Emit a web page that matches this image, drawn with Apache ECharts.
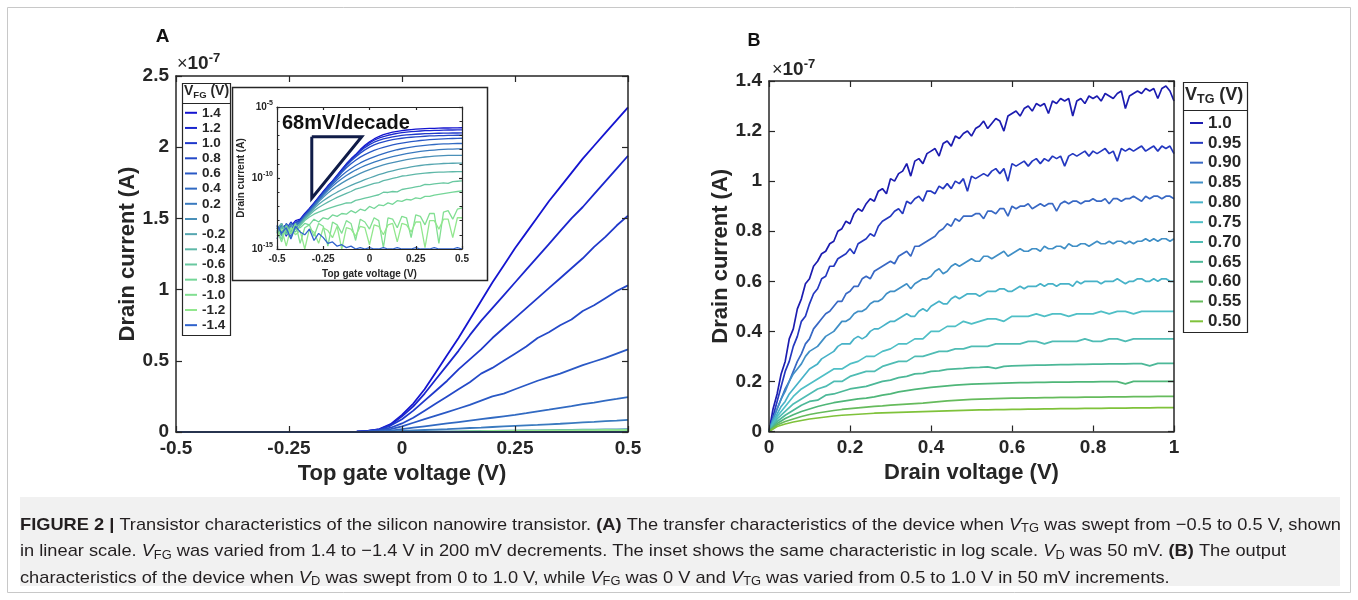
<!DOCTYPE html>
<html>
<head>
<meta charset="utf-8">
<script src="https://cdn.jsdelivr.net/npm/echarts@6/dist/echarts.min.js"></script>
<style>
html,body{margin:0;padding:0;background:#ffffff;}
#chart{width:1358px;height:600px;}
</style>
</head>
<body>
<div id="chart"></div>
<script>
// ================= Panel A : linear transfer curves (x 1e-7 A) =================
const vtgA = [-0.5,-0.475,-0.45,-0.425,-0.4,-0.375,-0.35,-0.325,-0.3,-0.275,-0.25,-0.225,-0.2,-0.175,-0.15,-0.125,-0.1,-0.075,-0.05,-0.025,0,0.025,0.05,0.075,0.1,0.125,0.15,0.175,0.2,0.225,0.25,0.275,0.3,0.325,0.35,0.375,0.4,0.425,0.45,0.475,0.5];
const fgLabels = ['1.4','1.2','1.0','0.8','0.6','0.4','0.2','0','-0.2','-0.4','-0.6','-0.8','-1.0','-1.2','-1.4'];
const fgColors = ['#1414d0','#1a26ce','#1f38cb','#2449c8','#2a59c5','#316ac2','#3a7abf','#4a90b8','#56a6b0','#5fb8a8','#69c8a0','#75d698','#82df92','#92e78e','#2f62cc'];

const idA_p14 = [0,0,0,0,0,0,0,0,0,0,0,0,0,0,0,0,0.003,0.008,0.02,0.055,0.12,0.2,0.3,0.42,0.54,0.66,0.79,0.92,1.05,1.17,1.29,1.4,1.51,1.62,1.72,1.82,1.92,2.01,2.1,2.19,2.28];
const idA_p12 = [0,0,0,0,0,0,0,0,0,0,0,0,0,0,0,0,0.003,0.008,0.019,0.05,0.11,0.18,0.27,0.37,0.47,0.57,0.68,0.78,0.87,0.96,1.05,1.14,1.23,1.32,1.41,1.5,1.58,1.67,1.76,1.85,1.94];
const idA_p10 = [0,0,0,0,0,0,0,0,0,0,0,0,0,0,0,0,0.002,0.007,0.017,0.045,0.09,0.15,0.22,0.29,0.36,0.44,0.51,0.58,0.66,0.73,0.8,0.87,0.94,1.01,1.08,1.15,1.22,1.3,1.37,1.45,1.52];
const idA_p08 = [0,0,0,0,0,0,0,0,0,0,0,0,0,0,0,0,0.002,0.005,0.013,0.03,0.06,0.1,0.15,0.2,0.25,0.3,0.35,0.41,0.45,0.5,0.55,0.6,0.66,0.7,0.75,0.79,0.85,0.89,0.94,0.99,1.03];
const idA_p06 = [0,0,0,0,0,0,0,0,0,0,0,0,0,0,0,0,0.001,0.004,0.009,0.02,0.04,0.065,0.09,0.115,0.14,0.165,0.19,0.22,0.25,0.27,0.3,0.33,0.36,0.385,0.41,0.44,0.47,0.495,0.52,0.55,0.58];
const idA_p04 = [0,0,0,0,0,0,0,0,0,0,0,0,0,0,0,0,0.001,0.002,0.005,0.01,0.02,0.03,0.04,0.05,0.06,0.07,0.08,0.09,0.1,0.11,0.12,0.132,0.145,0.157,0.17,0.182,0.195,0.207,0.22,0.232,0.245];
const idA_p02 = [0,0,0,0,0,0,0,0,0,0,0,0,0,0,0,0,0.0005,0.001,0.002,0.004,0.008,0.011,0.014,0.017,0.02,0.024,0.028,0.031,0.035,0.039,0.043,0.047,0.05,0.054,0.058,0.063,0.067,0.071,0.076,0.08,0.085];
const idA_z00 = [0,0,0,0,0,0,0,0,0,0,0,0,0,0,0,0,0,0,0.001,0.001,0.002,0.003,0.003,0.004,0.005,0.005,0.006,0.007,0.008,0.009,0.01,0.011,0.012,0.013,0.014,0.015,0.016,0.017,0.018,0.019,0.02];
const idA_m02 = [0,0,0,0,0,0,0,0,0,0,0,0,0,0,0,0,0,0,0,0,0,0,0,0.001,0.001,0.001,0.001,0.001,0.001,0.002,0.002,0.002,0.002,0.002,0.002,0.002,0.003,0.003,0.003,0.003,0.003];
const idA_m04 = [0,0,0,0,0,0,0,0,0,0,0,0,0,0,0,0,0,0,0,0,0,0,0,0,0,0,0,0,0.001,0.001,0.001,0.001,0.001,0.001,0.001,0.001,0.001,0.001,0.002,0.002,0.002];
const idA_m06 = [0,0,0,0,0,0,0,0,0,0,0,0,0,0,0,0,0,0,0,0,0,0,0,0,0,0,0,0,0,0,0,0.001,0.001,0.001,0.001,0.001,0.001,0.001,0.001,0.001,0.001];
const idA_m08 = [0,0,0,0,0,0,0,0,0,0,0,0,0,0,0,0,0,0,0,0,0,0,0,0,0,0,0,0,0,0,0,0,0,0,0,0,0,0,0,0,0];
const idA_m10 = [0,0,0,0,0,0,0,0,0,0,0,0,0,0,0,0,0,0,0,0,0,0,0,0,0,0.003,0.005,0.006,0.008,0.007,0.009,0.01,0.009,0.011,0.012,0.011,0.013,0.012,0.014,0.013,0.015];
const idA_m12 = [0,0,0,0,0,0,0,0,0,0,0,0,0,0,0,0,0,0,0,0,0,0,0,0,0,0.002,0.004,0.005,0.006,0.006,0.007,0.008,0.008,0.009,0.009,0.01,0.01,0.011,0.011,0.012,0.012];
const idA_m14 = [0,0,0,0,0,0,0,0,0,0,0,0,0,0,0,0,0,0,0,0,0,0,0,0,0,0,0,0,0,0,0,0,0,0,0,0,0,0,0,0,0];
const linearA = [idA_p14,idA_p12,idA_p10,idA_p08,idA_p06,idA_p04,idA_p02,idA_z00,idA_m02,idA_m04,idA_m06,idA_m08,idA_m10,idA_m12,idA_m14];

// ================= Inset : log10 of drain current (A) =================
const logA_p14 = [-13.6,-13.2,-14.1,-13.4,-13.0,-12.9,-12.5,-12.15,-11.75,-11.35,-10.95,-10.55,-10.2,-9.8,-9.4,-9.0,-8.65,-8.35,-8.0,-7.7,-7.45,-7.25,-7.08,-6.95,-6.85,-6.77,-6.71,-6.66,-6.62,-6.59,-6.56,-6.54,-6.52,-6.51,-6.5,-6.49,-6.48,-6.48,-6.47,-6.47,-6.46];
const logA_p12 = [-13.9,-13.5,-13.3,-14.2,-13.2,-12.95,-12.55,-12.2,-11.8,-11.4,-11.0,-10.6,-10.22,-9.83,-9.43,-9.03,-8.68,-8.38,-8.04,-7.77,-7.53,-7.34,-7.19,-7.08,-6.99,-6.92,-6.86,-6.81,-6.77,-6.74,-6.71,-6.69,-6.67,-6.66,-6.65,-6.64,-6.63,-6.62,-6.62,-6.61,-6.61];
const logA_p10 = [-13.4,-14.0,-13.6,-13.1,-13.5,-13.0,-12.6,-12.2,-11.8,-11.4,-11.02,-10.62,-10.25,-9.86,-9.46,-9.07,-8.72,-8.43,-8.12,-7.86,-7.65,-7.48,-7.35,-7.25,-7.17,-7.1,-7.05,-7.0,-6.97,-6.94,-6.92,-6.9,-6.88,-6.87,-6.86,-6.85,-6.84,-6.84,-6.83,-6.83,-6.82];
const logA_p08 = [-14.3,-13.3,-13.7,-13.8,-13.1,-13.0,-12.6,-12.25,-11.85,-11.45,-11.05,-10.66,-10.3,-9.92,-9.53,-9.15,-8.8,-8.52,-8.25,-8.02,-7.83,-7.67,-7.55,-7.45,-7.37,-7.3,-7.25,-7.2,-7.16,-7.13,-7.1,-7.08,-7.06,-7.04,-7.03,-7.02,-7.01,-7.0,-7.0,-6.99,-6.99];
const logA_p06 = [-13.5,-13.9,-13.2,-13.6,-13.3,-13.05,-12.65,-12.3,-11.9,-11.5,-11.1,-10.72,-10.35,-9.98,-9.62,-9.28,-9.0,-8.75,-8.53,-8.35,-8.2,-8.06,-7.94,-7.84,-7.75,-7.67,-7.6,-7.54,-7.49,-7.44,-7.4,-7.36,-7.33,-7.3,-7.28,-7.26,-7.24,-7.23,-7.22,-7.21,-7.2];
const logA_p04 = [-13.7,-13.3,-14.0,-13.2,-13.4,-13.1,-12.7,-12.35,-11.95,-11.55,-11.15,-10.78,-10.45,-10.12,-9.83,-9.56,-9.33,-9.12,-8.94,-8.78,-8.64,-8.51,-8.39,-8.28,-8.18,-8.09,-8.01,-7.94,-7.88,-7.83,-7.78,-7.74,-7.7,-7.67,-7.64,-7.62,-7.6,-7.59,-7.58,-7.57,-7.57];
const logA_p02 = [-13.4,-13.8,-13.5,-13.9,-13.2,-13.15,-12.75,-12.4,-12.0,-11.6,-11.22,-10.88,-10.58,-10.3,-10.05,-9.82,-9.62,-9.44,-9.28,-9.13,-9.0,-8.88,-8.77,-8.67,-8.58,-8.5,-8.42,-8.35,-8.29,-8.23,-8.18,-8.13,-8.09,-8.06,-8.03,-8.0,-7.98,-7.97,-7.96,-7.95,-7.95];
const logA_z00 = [-13.8,-13.4,-13.9,-13.3,-13.6,-13.2,-12.8,-12.45,-12.05,-11.68,-11.35,-11.06,-10.8,-10.57,-10.36,-10.17,-9.99,-9.83,-9.68,-9.54,-9.41,-9.29,-9.18,-9.08,-8.99,-8.91,-8.84,-8.77,-8.71,-8.65,-8.6,-8.56,-8.52,-8.49,-8.46,-8.44,-8.42,-8.41,-8.4,-8.4,-8.4];
const logA_m02 = [-13.5,-14.1,-13.3,-13.7,-13.4,-13.25,-12.85,-12.5,-12.15,-11.85,-11.6,-11.38,-11.18,-11.0,-10.83,-10.67,-10.52,-10.38,-10.25,-10.12,-10.0,-9.88,-9.77,-9.67,-9.57,-9.49,-9.41,-9.34,-9.28,-9.22,-9.17,-9.12,-9.08,-9.05,-9.02,-9.0,-8.98,-8.97,-8.96,-8.95,-8.95];
const logA_m04 = [-13.9,-13.5,-13.7,-14.2,-13.4,-13.3,-12.9,-12.6,-12.3,-12.08,-11.88,-11.7,-11.53,-11.37,-11.22,-11.08,-10.95,-10.78,-10.7,-10.59,-10.48,-10.38,-10.32,-10.19,-10.11,-10.03,-9.96,-9.86,-9.83,-9.78,-9.73,-9.69,-9.66,-9.63,-9.6,-9.59,-9.58,-9.57,-9.56,-9.55,-9.55];
const logA_m06 = [-13.6,-13.2,-14.0,-13.5,-13.8,-13.35,-13.0,-12.75,-12.55,-12.4,-12.28,-12.16,-12.05,-11.95,-11.85,-11.76,-11.75,-11.58,-11.5,-11.42,-11.34,-11.26,-11.18,-11.0,-11.02,-10.95,-10.98,-10.81,-10.75,-10.69,-10.63,-10.57,-10.45,-10.47,-10.42,-10.38,-10.34,-10.38,-10.26,-10.23,-10.2];
const logA_m08 = [-13.8,-14.3,-13.5,-13.9,-13.6,-13.5,-13.2,-13.3,-12.9,-13.1,-12.8,-12.9,-12.6,-12.7,-12.5,-12.55,-12.3,-12.45,-12.2,-12.3,-12.0,-12.15,-11.9,-11.95,-11.75,-11.85,-11.6,-11.65,-11.5,-11.55,-11.4,-11.45,-11.3,-11.3,-11.2,-11.15,-11.1,-11.05,-11.0,-10.95,-10.9];
const logA_m10 = [-13.7,-14.5,-13.4,-13.9,-13.2,-14.6,-13.5,-13.3,-14.1,-13.2,-13.4,-14.8,-13.1,-13.3,-13.9,-13.0,-13.2,-14.4,-12.9,-13.1,-13.6,-12.8,-13.0,-14.9,-12.8,-12.9,-13.5,-12.7,-12.8,-14.2,-12.6,-12.7,-13.3,-12.5,-12.5,-14.6,-12.4,-12.3,-12.9,-12.2,-12.1];
const logA_m12 = [-14.1,-13.6,-14.8,-13.5,-14.0,-13.7,-15.0,-13.6,-13.8,-14.6,-13.5,-13.7,-14.2,-13.4,-15.0,-13.5,-13.6,-14.1,-13.4,-13.5,-14.7,-13.3,-13.4,-14.0,-13.3,-13.2,-14.5,-13.2,-13.3,-13.8,-13.1,-13.1,-14.9,-13.0,-13.0,-13.6,-12.9,-12.9,-14.2,-12.8,-12.8];
const logA_m14 = [-13.3,-13.9,-13.5,-14.3,-13.4,-13.8,-14.0,-13.6,-14.4,-13.9,-14.2,-14.6,-14.5,-14.8,-14.7,-14.9,-14.8,-15.0,-14.9,-15.0,-14.9,-15.0,-15.0,-14.9,-15.0,-15.0,-14.9,-15.0,-15.0,-15.0,-14.9,-15.0,-15.0,-15.0,-14.9,-15.0,-15.0,-15.0,-15.0,-14.9,-15.0];
const logA = [logA_p14,logA_p12,logA_p10,logA_p08,logA_p06,logA_p04,logA_p02,logA_z00,logA_m02,logA_m04,logA_m06,logA_m08,logA_m10,logA_m12,logA_m14];
const slopeTriangle = [[-0.312,-7.09],[-0.042,-7.09],[-0.312,-11.43],[-0.312,-7.09]];
const insetYTicks = [-15,-10,-5];

// ================= Panel B : output curves (x 1e-7 A) =================
const vdB_fine = [0,0.01,0.02,0.03,0.04,0.05,0.06,0.07,0.08,0.09,
  0.1,0.11,0.12,0.13,0.14,0.15,0.16,0.17,0.18,0.19,
  0.2,0.21,0.22,0.23,0.24,0.25,0.26,0.27,0.28,0.29,
  0.3,0.31,0.32,0.33,0.34,0.35,0.36,0.37,0.38,0.39,
  0.4,0.41,0.42,0.43,0.44,0.45,0.46,0.47,0.48,0.49,
  0.5,0.51,0.52,0.53,0.54,0.55,0.56,0.57,0.58,0.59,
  0.6,0.61,0.62,0.63,0.64,0.65,0.66,0.67,0.68,0.69,
  0.7,0.71,0.72,0.73,0.74,0.75,0.76,0.77,0.78,0.79,
  0.8,0.81,0.82,0.83,0.84,0.85,0.86,0.87,0.88,0.89,
  0.9,0.91,0.92,0.93,0.94,0.95,0.96,0.97,0.98,0.99,1.0];
const vdB = [0,0.02,0.04,0.06,0.08,0.1,0.12,0.14,0.16,0.18,0.2,0.22,0.24,0.26,0.28,0.3,0.32,0.34,0.36,0.38,0.4,0.42,0.44,0.46,0.48,0.5,0.52,0.54,0.56,0.58,0.6,0.62,0.64,0.66,0.68,0.7,0.72,0.74,0.76,0.78,0.8,0.82,0.84,0.86,0.88,0.9,0.92,0.94,0.96,0.98,1.0];
const vtgLabels = ['1.0','0.95','0.90','0.85','0.80','0.75','0.70','0.65','0.60','0.55','0.50'];
const vtgColors = ['#1c1cb0','#2438c0','#3868c4','#408fc6','#47b2c8','#4fbfc6','#4fbcb4','#4cb898','#4fb678','#66bb5c','#7fc23a'];
const idB_100 = [0,0.09,0.15,0.23,0.28,0.37,0.41,0.49,0.53,0.59,
  0.61,0.66,0.68,0.71,0.72,0.75,0.76,0.80,0.81,0.84,
  0.83,0.87,0.89,0.88,0.91,0.93,0.92,0.96,0.97,0.95,
  1.01,1.00,1.03,1.04,1.07,1.02,1.08,1.09,1.07,1.11,
  1.12,1.13,1.10,1.15,1.16,1.14,1.18,1.17,1.19,1.20,
  1.18,1.21,1.22,1.24,1.21,1.23,1.25,1.24,1.20,1.26,
  1.27,1.28,1.26,1.29,1.30,1.28,1.31,1.30,1.31,1.27,
  1.32,1.31,1.33,1.32,1.33,1.26,1.32,1.33,1.31,1.34,
  1.33,1.34,1.32,1.35,1.34,1.33,1.35,1.36,1.29,1.34,
  1.35,1.36,1.35,1.37,1.36,1.37,1.33,1.37,1.38,1.36,1.32];
const idB_095 = [0,0.06,0.12,0.18,0.24,0.28,0.34,0.38,0.44,0.46,
  0.51,0.55,0.57,0.61,0.62,0.66,0.66,0.69,0.70,0.71,
  0.73,0.71,0.75,0.76,0.77,0.79,0.78,0.82,0.84,0.85,
  0.86,0.88,0.89,0.87,0.92,0.91,0.93,0.94,0.92,0.96,
  0.96,0.95,0.98,0.97,0.99,0.97,1.00,0.99,1.01,0.96,
  1.02,1.01,1.02,1.03,1.02,1.04,1.05,1.03,1.05,1.00,
  1.07,1.06,1.07,1.08,1.06,1.08,1.09,1.07,1.09,1.08,
  1.10,1.09,1.10,1.06,1.10,1.11,1.10,1.11,1.12,1.10,
  1.12,1.11,1.12,1.13,1.11,1.12,1.08,1.13,1.12,1.13,
  1.12,1.13,1.14,1.12,1.13,1.14,1.12,1.14,1.13,1.14,1.11];
const idB_090 = [0,0.05,0.09,0.13,0.17,0.20,0.24,0.28,0.31,0.35,
  0.37,0.41,0.43,0.45,0.47,0.48,0.50,0.52,0.52,0.55,
  0.56,0.58,0.58,0.61,0.62,0.61,0.64,0.65,0.66,0.67,
  0.68,0.67,0.70,0.71,0.72,0.70,0.74,0.74,0.75,0.76,
  0.77,0.78,0.80,0.81,0.83,0.82,0.85,0.84,0.86,0.86,
  0.86,0.87,0.87,0.85,0.88,0.88,0.87,0.89,0.89,0.86,
  0.90,0.89,0.90,0.90,0.91,0.89,0.90,0.91,0.90,0.91,
  0.91,0.88,0.91,0.92,0.91,0.92,0.92,0.91,0.92,0.92,
  0.93,0.92,0.92,0.93,0.91,0.93,0.93,0.92,0.93,0.93,
  0.94,0.93,0.92,0.94,0.93,0.94,0.94,0.93,0.94,0.94,0.93];
const idB_085 = [0,0.05,0.09,0.13,0.16,0.20,0.23,0.25,0.27,0.30,
  0.32,0.33,0.34,0.36,0.38,0.39,0.40,0.42,0.44,0.44,
  0.45,0.47,0.48,0.48,0.49,0.51,0.52,0.52,0.53,0.55,
  0.56,0.56,0.57,0.58,0.59,0.57,0.59,0.60,0.61,0.61,
  0.62,0.64,0.65,0.63,0.64,0.66,0.67,0.66,0.67,0.68,
  0.69,0.68,0.68,0.70,0.70,0.69,0.70,0.71,0.72,0.70,
  0.71,0.72,0.73,0.72,0.72,0.73,0.73,0.72,0.74,0.73,
  0.73,0.74,0.74,0.73,0.75,0.74,0.74,0.75,0.75,0.74,
  0.75,0.76,0.75,0.75,0.76,0.75,0.76,0.76,0.75,0.76,
  0.75,0.76,0.76,0.77,0.76,0.77,0.76,0.77,0.77,0.76,0.77];
const idB_080 = [0,0.04,0.07,0.10,0.12,0.15,0.17,0.19,0.21,0.23,
  0.25,0.26,0.27,0.29,0.30,0.31,0.32,0.34,0.35,0.35,
  0.35,0.37,0.38,0.37,0.38,0.40,0.41,0.41,0.42,0.43,
  0.44,0.44,0.45,0.46,0.47,0.46,0.46,0.48,0.49,0.48,
  0.50,0.51,0.52,0.51,0.51,0.53,0.54,0.53,0.54,0.55,
  0.55,0.55,0.54,0.55,0.56,0.56,0.56,0.57,0.57,0.56,
  0.56,0.57,0.58,0.57,0.58,0.58,0.58,0.59,0.58,0.59,
  0.59,0.58,0.59,0.59,0.59,0.58,0.60,0.59,0.60,0.60,
  0.60,0.60,0.59,0.60,0.60,0.60,0.61,0.60,0.59,0.60,
  0.60,0.61,0.61,0.60,0.60,0.61,0.60,0.61,0.61,0.60,0.60];
const idB_075 = [0,0.06,0.10,0.14,0.17,0.19,0.21,0.23,0.25,0.25,0.27,0.28,0.30,0.30,0.32,0.33,0.35,0.35,0.37,0.37,0.40,0.40,0.42,0.42,0.44,0.43,0.44,0.45,0.45,0.44,0.46,0.46,0.46,0.47,0.46,0.47,0.47,0.46,0.47,0.47,0.47,0.48,0.47,0.48,0.48,0.47,0.48,0.48,0.48,0.48,0.48];
const idB_070 = [0,0.05,0.08,0.11,0.13,0.15,0.17,0.18,0.20,0.20,0.22,0.23,0.24,0.24,0.26,0.27,0.28,0.28,0.30,0.30,0.31,0.32,0.32,0.33,0.33,0.34,0.34,0.34,0.35,0.35,0.35,0.35,0.36,0.36,0.35,0.36,0.36,0.36,0.36,0.37,0.36,0.36,0.37,0.37,0.36,0.37,0.37,0.37,0.37,0.37,0.37];
const idB_065 = [0,0.04,0.065,0.085,0.105,0.12,0.125,0.145,0.15,0.16,0.17,0.175,0.18,0.19,0.20,0.205,0.215,0.22,0.23,0.232,0.24,0.242,0.248,0.25,0.252,0.255,0.256,0.258,0.252,0.26,0.262,0.263,0.264,0.265,0.265,0.266,0.267,0.267,0.268,0.268,0.269,0.269,0.27,0.27,0.27,0.271,0.271,0.262,0.272,0.272,0.272];
const idB_060 = [0,0.032,0.052,0.067,0.08,0.09,0.10,0.108,0.115,0.12,0.125,0.13,0.133,0.138,0.145,0.15,0.158,0.163,0.168,0.172,0.176,0.179,0.182,0.185,0.187,0.189,0.19,0.191,0.192,0.193,0.194,0.195,0.195,0.196,0.196,0.197,0.197,0.197,0.198,0.198,0.198,0.199,0.199,0.199,0.19,0.2,0.2,0.2,0.2,0.2,0.2];
const idB_055 = [0,0.026,0.04,0.05,0.06,0.068,0.074,0.079,0.084,0.088,0.091,0.094,0.097,0.1,0.102,0.105,0.107,0.109,0.111,0.113,0.116,0.119,0.122,0.124,0.126,0.128,0.129,0.13,0.131,0.132,0.133,0.133,0.134,0.134,0.135,0.135,0.136,0.136,0.136,0.137,0.137,0.137,0.138,0.138,0.138,0.139,0.139,0.139,0.14,0.14,0.14];
const idB_050 = [0,0.02,0.03,0.038,0.044,0.05,0.054,0.058,0.062,0.065,0.067,0.069,0.071,0.073,0.074,0.075,0.076,0.077,0.078,0.079,0.08,0.081,0.082,0.083,0.084,0.085,0.086,0.086,0.087,0.087,0.088,0.088,0.089,0.089,0.09,0.09,0.091,0.091,0.091,0.092,0.092,0.092,0.093,0.093,0.093,0.094,0.094,0.094,0.095,0.095,0.095];
const outputB = [idB_100,idB_095,idB_090,idB_085,idB_080,idB_075,idB_070,idB_065,idB_060,idB_055,idB_050];
const outputBx = [vdB_fine,vdB_fine,vdB_fine,vdB_fine,vdB_fine,vdB,vdB,vdB,vdB,vdB,vdB];

// ================= Caption text =================
const captionLines = [
  [['b','FIGURE 2 |'],['n',' Transistor characteristics of the silicon nanowire transistor. '],['b','(A)'],['n',' The transfer characteristics of the device when '],['i','V'],['s','TG'],['n',' was swept from \u22120.5 to 0.5 V, shown']],
  [['n','in linear scale. '],['i','V'],['s','FG'],['n',' was varied from 1.4 to \u22121.4 V in 200 mV decrements. The inset shows the same characteristic in log scale. '],['i','V'],['s','D'],['n',' was 50 mV. '],['b','(B)'],['n',' The output']],
  [['n','characteristics of the device when '],['i','V'],['s','D'],['n',' was swept from 0 to 1.0 V, while '],['i','V'],['s','FG'],['n',' was 0 V and '],['i','V'],['s','TG'],['n',' was varied from 0.5 to 1.0 V in 50 mV increments.']]
];

// ================= Build chart =================
const FONT = 'Liberation Sans';
const AX = '#262626';

function axis(o) {
  const lab = Object.assign({show:true, color:AX, fontFamily:FONT, fontWeight:'bold', fontSize:19, margin:7}, o.label || {});
  const tick = Object.assign({show:true, inside:true, length:6, lineStyle:{color:AX, width:1.2}}, o.tick || {});
  const a = {
    type:'value', gridIndex:o.grid, position:o.pos, min:o.min, max:o.max, interval:o.interval,
    axisLine:{show:true, onZero:false, lineStyle:{color:AX, width:o.lw || 1.5}},
    axisTick:tick, axisLabel:lab, splitLine:{show:false}, silent:true, z:5
  };
  if (o.name) {
    a.name = o.name; a.nameLocation = 'middle'; a.nameGap = o.nameGap;
    a.nameTextStyle = {color:AX, fontFamily:FONT, fontWeight:'bold', fontSize:o.nameSize};
  }
  if (o.minor) a.minorTick = {show:true, splitNumber:o.minor, length:2.5, lineStyle:{color:AX, width:1}};
  return a;
}

const insetLabelRich = {
  b:{fontSize:10, fontWeight:'bold', fontFamily:FONT, color:AX},
  e:{fontSize:7, fontWeight:'bold', fontFamily:FONT, color:AX, padding:[0,0,7,0]}
};

const xAxes = [
  axis({grid:0, pos:'bottom', min:-0.5, max:0.5, interval:0.25, name:'Top gate voltage (V)', nameGap:27, nameSize:22}),
  axis({grid:0, pos:'top', min:-0.5, max:0.5, interval:0.25, label:{show:false}}),
  axis({grid:1, pos:'bottom', min:-0.5, max:0.5, interval:0.25, lw:1.2, tick:{length:3}, label:{fontSize:10, margin:5}, name:'Top gate voltage (V)', nameGap:20, nameSize:10}),
  axis({grid:1, pos:'top', min:-0.5, max:0.5, interval:0.25, lw:1.2, tick:{length:3}, label:{show:false}}),
  axis({grid:2, pos:'bottom', min:0, max:1, interval:0.2, name:'Drain voltage (V)', nameGap:27, nameSize:22}),
  axis({grid:2, pos:'top', min:0, max:1, interval:0.2, label:{show:false}})
];
const yAxes = [
  axis({grid:0, pos:'left', min:0, max:2.5, interval:0.5, name:'Drain current (A)', nameGap:36, nameSize:22}),
  axis({grid:0, pos:'right', min:0, max:2.5, interval:0.5, label:{show:false}}),
  axis({grid:1, pos:'left', min:insetYTicks[0], max:insetYTicks[2], interval:5, lw:1.2, tick:{length:3}, minor:5,
        label:{fontSize:10, margin:4, formatter:v => '{b|10}{e|' + v + '}', rich:insetLabelRich},
        name:'Drain current (A)', nameGap:31, nameSize:10}),
  axis({grid:1, pos:'right', min:insetYTicks[0], max:insetYTicks[2], interval:5, lw:1.2, tick:{length:3}, minor:5, label:{show:false}}),
  axis({grid:2, pos:'left', min:0, max:1.4, interval:0.2, name:'Drain current (A)', nameGap:34, nameSize:22}),
  axis({grid:2, pos:'right', min:0, max:1.4, interval:0.2, label:{show:false}})
];

const series = [];
fgLabels.forEach((lab, k) => {
  series.push({
    type:'line', name:'A:' + lab, xAxisIndex:0, yAxisIndex:0, z:2,
    data: vtgA.map((v, i) => [v, linearA[k][i]]),
    symbol:'none', silent:true, color:fgColors[k],
    lineStyle:{color:fgColors[k], width:1.8}, itemStyle:{color:fgColors[k]}
  });
});
fgLabels.forEach((lab, k) => {
  series.push({
    type:'line', name:'A:' + lab, xAxisIndex:2, yAxisIndex:2, z:3,
    data: vtgA.map((v, i) => [v, logA[k][i]]),
    symbol:'none', silent:true, color:fgColors[k],
    lineStyle:{color:fgColors[k], width:1.3}, itemStyle:{color:fgColors[k]}
  });
});
series.push({
  type:'line', name:'slope', xAxisIndex:2, yAxisIndex:2, z:4,
  data: slopeTriangle, symbol:'none', silent:true,
  lineStyle:{color:'#101c48', width:3, join:'miter'}
});
vtgLabels.forEach((lab, k) => {
  series.push({
    type:'line', name:'B:' + lab, xAxisIndex:4, yAxisIndex:4, z:2,
    data: outputBx[k].map((v, i) => [v, outputB[k][i]]),
    symbol:'none', silent:true, color:vtgColors[k],
    lineStyle:{color:vtgColors[k], width:1.7}, itemStyle:{color:vtgColors[k]}
  });
});

// caption measurement (to fit the reference line length)
const capStyles = {
  n:{fontSize:17, fontFamily:FONT, fill:'#231f20'},
  b:{fontSize:17, fontFamily:FONT, fontWeight:'bold', fill:'#231f20'},
  i:{fontSize:17, fontFamily:FONT, fontStyle:'italic', fill:'#231f20'},
  s:{fontSize:12, fontFamily:FONT, fill:'#231f20', padding:[8,0,0,0]}
};
const mctx = document.createElement('canvas').getContext('2d');
function lineWidth(segs) {
  let w = 0;
  segs.forEach(([st, t]) => {
    const s = capStyles[st];
    mctx.font = (s.fontStyle || 'normal') + ' ' + (s.fontWeight || 'normal') + ' ' + s.fontSize + 'px "' + FONT + '"';
    w += mctx.measureText(t).width;
  });
  return w;
}
const capScale = 1321 / lineWidth(captionLines[0]);
const capY = [525, 551.5, 578];

const graphics = [
  {type:'rect', z:-3, shape:{x:7.5, y:7.5, width:1343, height:585}, style:{fill:'#ffffff', stroke:'#c8c8c8', lineWidth:1}},
  {type:'rect', z:-2, shape:{x:20, y:497, width:1320, height:89}, style:{fill:'#f1f1f1'}},
  {type:'text', x:162.5, y:37, style:{text:'A', fontSize:19, fontWeight:'bold', fontFamily:FONT, fill:'#111', align:'center', verticalAlign:'middle'}},
  {type:'text', x:754, y:41, style:{text:'B', fontSize:18, fontWeight:'bold', fontFamily:FONT, fill:'#111', align:'center', verticalAlign:'middle'}},
  {type:'text', x:177, y:64, style:{text:'{x|\u00d7}{t|10}{e|-7}', align:'left', verticalAlign:'middle', fill:AX,
    rich:{x:{fontSize:18, fontFamily:FONT, fill:AX}, t:{fontSize:19, fontWeight:'bold', fontFamily:FONT, fill:AX}, e:{fontSize:13, fontWeight:'bold', fontFamily:FONT, fill:AX, padding:[0,0,11,0]}}}},
  {type:'text', x:772, y:70, style:{text:'{x|\u00d7}{t|10}{e|-7}', align:'left', verticalAlign:'middle', fill:AX,
    rich:{x:{fontSize:18, fontFamily:FONT, fill:AX}, t:{fontSize:19, fontWeight:'bold', fontFamily:FONT, fill:AX}, e:{fontSize:13, fontWeight:'bold', fontFamily:FONT, fill:AX, padding:[0,0,11,0]}}}},
  // legend A frame
  {type:'rect', z:-1, shape:{x:182.5, y:83.5, width:48, height:252}, style:{fill:'#ffffff', stroke:AX, lineWidth:1.2}},
  {type:'line', z:1, shape:{x1:182.5, y1:103.5, x2:230.5, y2:103.5}, style:{stroke:AX, lineWidth:1.2}},
  {type:'text', x:184, y:91.5, style:{text:'{v|V}{s|FG}{v| (V)}', align:'left', verticalAlign:'middle', fill:AX,
    rich:{v:{fontSize:14, fontWeight:'bold', fontFamily:FONT, fill:AX}, s:{fontSize:9.5, fontWeight:'bold', fontFamily:FONT, fill:AX, padding:[7,0,0,0]}}}},
  // legend B frame
  {type:'rect', z:-1, shape:{x:1183.5, y:82.5, width:64, height:250}, style:{fill:'#ffffff', stroke:AX, lineWidth:1.2}},
  {type:'line', z:1, shape:{x1:1183.5, y1:110.5, x2:1247.5, y2:110.5}, style:{stroke:AX, lineWidth:1.2}},
  {type:'text', x:1185, y:95.5, style:{text:'{v|V}{s|TG}{v| (V)}', align:'left', verticalAlign:'middle', fill:AX,
    rich:{v:{fontSize:18, fontWeight:'bold', fontFamily:FONT, fill:AX}, s:{fontSize:12.5, fontWeight:'bold', fontFamily:FONT, fill:AX, padding:[9,0,0,0]}}}},
  // inset frame
  {type:'rect', z:-1, shape:{x:232.5, y:87.5, width:255, height:193}, style:{fill:'#ffffff', stroke:AX, lineWidth:1.5}},
  {type:'text', z:6, x:282, y:123.5, style:{text:'68mV/decade', fontSize:20, fontWeight:'bold', fontFamily:FONT, fill:'#111', align:'left', verticalAlign:'middle'}}
];
captionLines.forEach((segs, li) => {
  graphics.push({
    type:'text', x:20, y:capY[li], scaleX:capScale, scaleY:1,
    style:{text: segs.map(([st, t]) => '{' + st + '|' + t + '}').join(''), rich:capStyles,
      fontSize:17, fontFamily:FONT, fill:'#231f20', align:'left', verticalAlign:'middle'}
  });
});

const legendText = (size) => ({color:AX, fontFamily:FONT, fontWeight:'bold', fontSize:size});
const option = {
  animation:false,
  backgroundColor:'#ffffff',
  textStyle:{fontFamily:FONT},
  grid:[
    {left:176, top:76, width:452, height:356, containLabel:false, outerBoundsMode:'none'},
    {left:277, top:107, width:185, height:142, containLabel:false, outerBoundsMode:'none'},
    {left:769, top:81, width:405, height:350.5, containLabel:false, outerBoundsMode:'none'}
  ],
  xAxis:xAxes,
  yAxis:yAxes,
  legend:[
    {data:fgLabels.map(l => 'A:' + l), orient:'vertical', left:185, top:105.2, padding:0, itemGap:0,
     itemWidth:12, itemHeight:2, icon:'rect', selectedMode:false, z:6,
     formatter:n => n.slice(2), textStyle:Object.assign(legendText(13.5), {lineHeight:15.17})},
    {data:vtgLabels.map(l => 'B:' + l), orient:'vertical', left:1190, top:113.1, padding:0, itemGap:0,
     itemWidth:13, itemHeight:2, icon:'rect', selectedMode:false, z:6,
     formatter:n => n.slice(2), textStyle:Object.assign(legendText(17), {lineHeight:19.83})}
  ],
  graphic:graphics,
  series:series
};

const chart = echarts.init(document.getElementById('chart'), null, {renderer:'canvas', width:1358, height:600});
chart.setOption(option);
</script>
</body>
</html>
